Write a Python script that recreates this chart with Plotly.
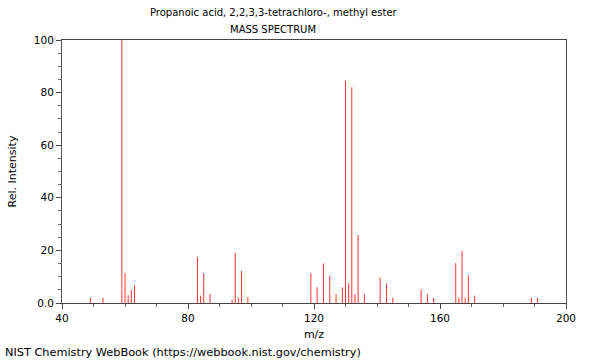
import plotly.graph_objects as go

title_text = "Propanoic acid, 2,2,3,3-tetrachloro-, methyl ester"
subtitle_text = "MASS SPECTRUM"
footer_text = "NIST Chemistry WebBook (https://webbook.nist.gov/chemistry)"
mz = [49, 53, 59, 60, 61, 62, 63, 83, 84, 85, 87, 94, 95, 96, 97, 99,
      119, 121, 123, 125, 127, 129, 130, 131, 132, 133, 134, 136,
      141, 143, 145, 154, 156, 158, 165, 166, 167, 168, 169, 171, 189, 191]
intensity = [2.0, 2.0, 100, 11.3, 3.0, 5.0, 6.8, 17.5, 2.8, 11.3, 3.4, 1.3, 19.0, 2.0, 12.2, 2.2,
             11.3, 6.0, 15.1, 10.4, 3.4, 6.0, 84.5, 7.5, 82.0, 3.4, 25.9, 3.4,
             9.6, 7.5, 2.0, 5.1, 3.4, 1.9, 15.2, 2.0, 19.8, 2.0, 10.5, 2.8, 2.0, 2.0]
x_ticks = [40, 80, 120, 160, 200]
y_ticks = [0, 20, 40, 60, 80, 100]
y_ticktext = ["0.0", "20", "40", "60", "80", "100"]

xs, ys = [], []
for m, v in zip(mz, intensity):
    xs += [m, m, None]
    ys += [0, v, None]

fig = go.Figure()
fig.add_trace(go.Scatter(x=xs, y=ys, mode="lines",
                         line=dict(color="#ff3333", width=1),
                         hoverinfo="skip", showlegend=False))

PL, PR, PT, PB = 62, 566, 40, 303
def px(x):
    return (x - PL) / (PR - PL)
def py(y):
    return (PB - y) / (PB - PT)

tfont = dict(family="DejaVu Sans", size=10, color="#000")
afont = dict(family="DejaVu Sans", size=11, color="#000")
ffont = dict(family="DejaVu Sans", size=11.3, color="#000")
kfont = dict(family="DejaVu Sans", size=10.5, color="#000")
fig.update_layout(
    width=600, height=360,
    margin=dict(l=PL, r=600 - PR, t=PT, b=360 - PB, autoexpand=False),
    paper_bgcolor="white", plot_bgcolor="white",
    font=tfont,
    showlegend=False,
    hovermode=False,
    annotations=[
        dict(text=title_text, x=px(274), xref="paper", y=py(13), yref="paper",
             xanchor="center", yanchor="middle", showarrow=False, font=tfont),
        dict(text=subtitle_text, x=px(273), xref="paper", y=py(30), yref="paper",
             xanchor="center", yanchor="middle", showarrow=False, font=tfont),
        dict(text=footer_text, x=px(3), xref="paper", y=py(352), yref="paper",
             xanchor="left", yanchor="middle", showarrow=False, font=ffont),
    ],
)

fig.update_xaxes(
    range=[40, 200], tickvals=x_ticks, ticks="outside", ticklen=5,
    tickcolor="#444", showgrid=False, zeroline=False,
    showline=True, linecolor="#444", linewidth=1, mirror=True,
    minor=dict(dtick=10, tick0=0, ticks="outside", ticklen=3, tickcolor="#666", showgrid=False),
    title=dict(text="m/z", font=afont, standoff=7),
    tickfont=kfont,
)
fig.update_yaxes(
    range=[0, 100], tickvals=y_ticks, ticktext=y_ticktext, ticks="outside", ticklen=5,
    tickcolor="#444", showgrid=False, zeroline=False,
    showline=True, linecolor="#555", linewidth=1, mirror=True,
    minor=dict(dtick=5, tick0=0, ticks="outside", ticklen=3, tickcolor="#666", showgrid=False),
    title=dict(text="Rel. Intensity", font=afont, standoff=15),
    tickfont=kfont,
)

fig.write_html("out.html", config={"displayModeBar": False, "staticPlot": True},
               post_script="document.body.style.margin='0';document.body.style.padding='0';")
